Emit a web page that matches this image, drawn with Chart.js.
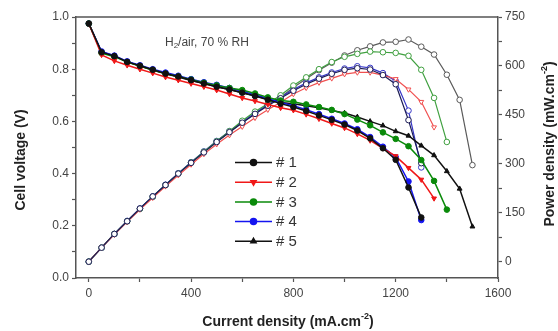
<!DOCTYPE html>
<html><head><meta charset="utf-8">
<script src="https://cdn.jsdelivr.net/npm/chart.js@4.4.1/dist/chart.umd.min.js"></script>
<style>html,body{margin:0;padding:0;background:#fff}#wrap{width:558px;height:331px}</style>
</head><body><div id="wrap"><canvas id="c" width="558" height="331"></canvas></div>
<script>
const current = [0,50,100,150,200,250,300,350,400,450,500,550,600,650,700,750,800,850,900,950,1000,1050,1100,1150,1200,1250,1300,1350,1400,1450,1500];

const voltage1 = [0.975,0.865,0.85,0.828,0.813,0.798,0.783,0.772,0.758,0.745,0.733,0.722,0.71,0.697,0.683,0.668,0.655,0.64,0.623,0.606,0.588,0.565,0.535,0.497,0.453,0.347,0.232];
const voltage2 = [0.975,0.855,0.832,0.815,0.8,0.785,0.77,0.758,0.745,0.733,0.72,0.705,0.69,0.678,0.665,0.652,0.643,0.627,0.61,0.592,0.575,0.552,0.527,0.497,0.467,0.422,0.377,0.305];
const voltage3 = [0.975,0.862,0.848,0.827,0.812,0.797,0.783,0.772,0.76,0.748,0.738,0.728,0.72,0.707,0.692,0.68,0.675,0.665,0.655,0.644,0.628,0.607,0.585,0.558,0.533,0.505,0.452,0.372,0.262];
const voltage4 = [0.975,0.868,0.852,0.83,0.815,0.8,0.787,0.775,0.762,0.75,0.74,0.728,0.715,0.702,0.688,0.672,0.66,0.645,0.628,0.61,0.592,0.57,0.54,0.503,0.462,0.37,0.222];
const voltage5 = [0.975,0.865,0.852,0.828,0.812,0.797,0.782,0.77,0.757,0.745,0.733,0.722,0.71,0.698,0.685,0.672,0.668,0.66,0.652,0.642,0.632,0.617,0.6,0.584,0.562,0.545,0.507,0.47,0.409,0.342,0.197];

const power1 = [0,43,85,124,163,200,235,270,303,335,367,397,426,453,478,501,524,544,561,576,588,593,589,572,544,434,302];
const power2 = [0,43,83,122,160,196,231,265,298,330,360,388,414,441,466,489,514,533,549,562,575,580,580,572,560,528,490,412];
const power3 = [0,43,85,124,162,199,235,270,304,337,369,400,432,460,484,510,540,565,590,612,628,637,644,642,640,631,588,502,367];
const power4 = [0,43,85,125,163,200,236,271,305,338,370,400,429,456,482,504,528,548,565,580,592,599,594,578,554,463,289];
const power5 = [0,43,85,124,162,199,235,270,303,335,367,397,426,454,480,504,534,561,587,610,632,648,660,672,674,681,659,635,573,496,296];

const seriesNames = ['# 1','# 2','# 3','# 4','# 5'];
const xTicks = [0,200,400,600,800,1000,1200,1400,1600];
const yTicks = [0,0.1,0.2,0.3,0.4,0.5,0.6,0.7,0.8,0.9,1.0];
const y2Ticks = [0,75,150,225,300,375,450,525,600,675,750];

const vColors = ['#111111','#f01818','#0a8a0a','#1414f0','#111111'];
const pColors = ['#1c1c55','#f05050','#40a040','#3535c8','#5a5a5a'];
const vStyles = ['circle','triangle','circle','circle','triangle'];
const vRot = [0,180,0,0,0];
const pStyles = ['circle','triangle','circle','circle','circle'];

function pts(vals){ return vals.map((v,i)=>({x: current[i], y: v})); }

const vSeries = [voltage1,voltage2,voltage3,voltage4,voltage5];
const pSeries = [power1,power2,power3,power4,power5];
const datasets = [];
pSeries.forEach((s,i)=>datasets.push({
  label: 'P '+seriesNames[i], data: pts(s), yAxisID:'y2',
  borderColor: pColors[i], backgroundColor:'#fff', borderWidth:1.2,
  pointStyle: pStyles[i], pointRotation: vRot[i], pointRadius:2.8,
  pointBackgroundColor:'#fff', pointBorderColor: pColors[i], pointBorderWidth:1, order: 2
}));
vSeries.forEach((s,i)=>datasets.push({
  label: seriesNames[i], data: pts(s), yAxisID:'y',
  borderColor: vColors[i], backgroundColor: vColors[i], borderWidth:1.5,
  pointStyle: vStyles[i], pointRotation: vRot[i], pointRadius:2.8,
  pointBackgroundColor: vColors[i], pointBorderColor: vColors[i], pointBorderWidth:1, order: 1
}));

const axisColor = '#555';
const tickFont = {family:'"Liberation Sans", Arial, sans-serif', size:12};

function richText(ctx, parts, x, y, align){
  let total = 0;
  parts.forEach(p=>{ ctx.font = p.font; p.w = ctx.measureText(p.t).width; total += p.w; });
  let cx = align==='center' ? x - total/2 : x;
  parts.forEach(p=>{ ctx.font = p.font; ctx.fillText(p.t, cx, y + (p.dy||0)); cx += p.w; });
}

const decor = {
  id:'decor',
  afterDraw(chart){
    const ctx = chart.ctx, a = chart.chartArea;
    ctx.save();
    // top frame line
    ctx.strokeStyle = axisColor; ctx.lineWidth = 1.5;
    ctx.beginPath(); ctx.moveTo(a.left, a.top); ctx.lineTo(a.right, a.top); ctx.stroke();
    // titles
    ctx.fillStyle = '#222'; ctx.textBaseline = 'middle'; ctx.textAlign = 'left';
    const bf = 'bold 14px "Liberation Sans", Arial, sans-serif';
    const sf = 'bold 9px "Liberation Sans", Arial, sans-serif';
    richText(ctx, [{t:'Current density (mA.cm', font:bf},{t:'-2', font:sf, dy:-5},{t:')', font:bf}], 288, 322, 'center');
    ctx.save(); ctx.translate(21, 160); ctx.rotate(-Math.PI/2);
    richText(ctx, [{t:'Cell voltage (V)', font:bf}], 0, 0, 'center');
    ctx.restore();
    ctx.save(); ctx.translate(550, 144); ctx.rotate(-Math.PI/2);
    richText(ctx, [{t:'Power density (mW.cm', font:bf},{t:'-2', font:sf, dy:-5},{t:')', font:bf}], 0, 0, 'center');
    ctx.restore();
    // annotation
    ctx.fillStyle = '#444';
    const nf = '12px "Liberation Sans", Arial, sans-serif';
    const sub = '8px "Liberation Sans", Arial, sans-serif';
    richText(ctx, [{t:'H', font:nf},{t:'2', font:sub, dy:3},{t:'/air, 70 % RH', font:nf}], 165, 43, 'left');
    // legend
    for (let i=0;i<5;i++){
      const y = 162.5 + i*19.7;
      ctx.strokeStyle = vColors[i]; ctx.lineWidth = 1.5;
      ctx.beginPath(); ctx.moveTo(235, y); ctx.lineTo(272, y); ctx.stroke();
      ctx.fillStyle = vColors[i];
      Chart.helpers.drawPoint(ctx, {pointStyle: vStyles[i], rotation: vRot[i], radius: 3, borderWidth: 1}, 253.5, y);
      ctx.fillStyle = '#333'; ctx.font = '15px "Liberation Sans", Arial, sans-serif';
      ctx.textBaseline = 'middle'; ctx.fillText(seriesNames[i], 276, y + 0.5);
    }
    ctx.restore();
  }
};

new Chart(document.getElementById('c'), {
  type:'line',
  data:{datasets},
  plugins:[decor],
  options:{
    responsive:false, animation:false,
    layout:{padding:{top:17,left:0,right:0,bottom:0}},
    plugins:{legend:{display:false}, tooltip:{enabled:false}},
    scales:{
      x:{type:'linear', min:-50, max:1600,
        afterBuildTicks(s){ s.ticks = xTicks.map(v=>({value:v})); },
        afterFit(s){ s.height = 53; },
        ticks:{autoSkip:false, maxRotation:0, padding:4, color:'#444', font:tickFont,
          callback:(v)=> v%400===0 ? String(v) : ''},
        grid:{drawOnChartArea:false, drawTicks:true, tickLength:4, color:axisColor, tickWidth:1.2},
        border:{display:true, color:axisColor, width:1.5}
      },
      y:{type:'linear', position:'left', min:0, max:1,
        afterBuildTicks(s){ s.ticks = yTicks.map(v=>({value:v})); },
        afterFit(s){ s.width = 76; },
        ticks:{autoSkip:false, padding:3, color:'#444', font:tickFont,
          callback:(v,i)=> i%2===0 ? v.toFixed(1) : ''},
        grid:{drawOnChartArea:false, drawTicks:true, tickLength:4, color:axisColor, tickWidth:1.2},
        border:{display:true, color:axisColor, width:1.5}
      },
      y2:{type:'linear', position:'right', min:-50, max:750,
        afterBuildTicks(s){ s.ticks = y2Ticks.map(v=>({value:v})); },
        afterFit(s){ s.width = 60; },
        ticks:{autoSkip:false, padding:3, color:'#444', font:tickFont,
          callback:(v)=> v%150===0 ? String(v) : ''},
        grid:{drawOnChartArea:false, drawTicks:true, tickLength:4, color:axisColor, tickWidth:1.2},
        border:{display:true, color:axisColor, width:1.5}
      }
    }
  }
});
</script></body></html>
